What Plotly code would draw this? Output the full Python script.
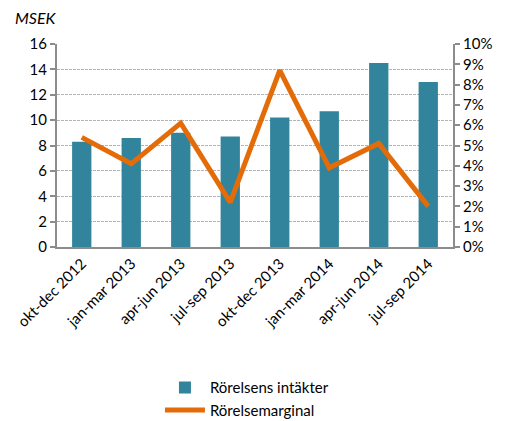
import plotly.graph_objects as go

categories = ["okt-dec 2012", "jan-mar 2013", "apr-jun 2013", "jul-sep 2013",
              "okt-dec 2013", "jan-mar 2014", "apr-jun 2014", "jul-sep 2014"]
intakter = [8.3, 8.6, 9.0, 8.7, 10.2, 10.7, 14.5, 13.0]
marginal = [0.054, 0.041, 0.061, 0.022, 0.087, 0.039, 0.051, 0.020]
left_ticks = [0, 2, 4, 6, 8, 10, 12, 14, 16]
right_ticks = [i / 100 for i in range(0, 11)]

font = "Lato, 'Open Sans', sans-serif"
fig = go.Figure()
fig.add_trace(go.Bar(x=categories, y=intakter, name="Rörelsens intäkter",
                     marker=dict(color="#31849B", line=dict(width=0)), yaxis="y"))
fig.add_trace(go.Scatter(x=categories, y=marginal, name="Rörelsemarginal",
                         mode="lines", line=dict(color="#E36C09", width=5), yaxis="y2"))

fig.update_layout(
    width=505, height=421,
    margin=dict(l=57, r=52, t=44, b=174),
    paper_bgcolor="white", plot_bgcolor="white",
    font=dict(family=font, size=15, color="black"),
    bargap=0.61,
    showlegend=True,
    legend=dict(orientation="v", x=0.26, xanchor="left", xref="paper",
                y=0.118, yanchor="top", yref="container",
                font=dict(size=15), tracegroupgap=0, itemwidth=40),
    xaxis=dict(showline=True, linecolor="#8C8C8C", linewidth=2, tickangle=-45,
               ticks="", tickfont=dict(size=15), mirror=False, automargin=False),
    yaxis=dict(range=[0, 16], tickvals=left_ticks, showgrid=True, gridcolor="#B4B4B4",
               griddash="3px,1px", gridwidth=1, showline=True, linecolor="#8C8C8C", linewidth=2,
               ticks="outside", ticklen=5, tickwidth=1.5, tickcolor="#8C8C8C", zeroline=False,
               automargin=False),
    yaxis2=dict(range=[0, 0.10], tickvals=right_ticks, tickformat=".0%", overlaying="y",
                side="right", showgrid=False, showline=True, linecolor="#8C8C8C", linewidth=2,
                ticks="outside", ticklen=5, tickwidth=1.5, tickcolor="#8C8C8C", zeroline=False,
                automargin=False),
    annotations=[dict(text="<i>MSEK</i>", xref="paper", yref="paper", x=-0.112, y=1.075,
                      xanchor="left", yanchor="bottom", showarrow=False, font=dict(size=16))],
)
fig.write_html("out.html", config={"displayModeBar": False},
               post_script="document.body.style.margin='0';")
